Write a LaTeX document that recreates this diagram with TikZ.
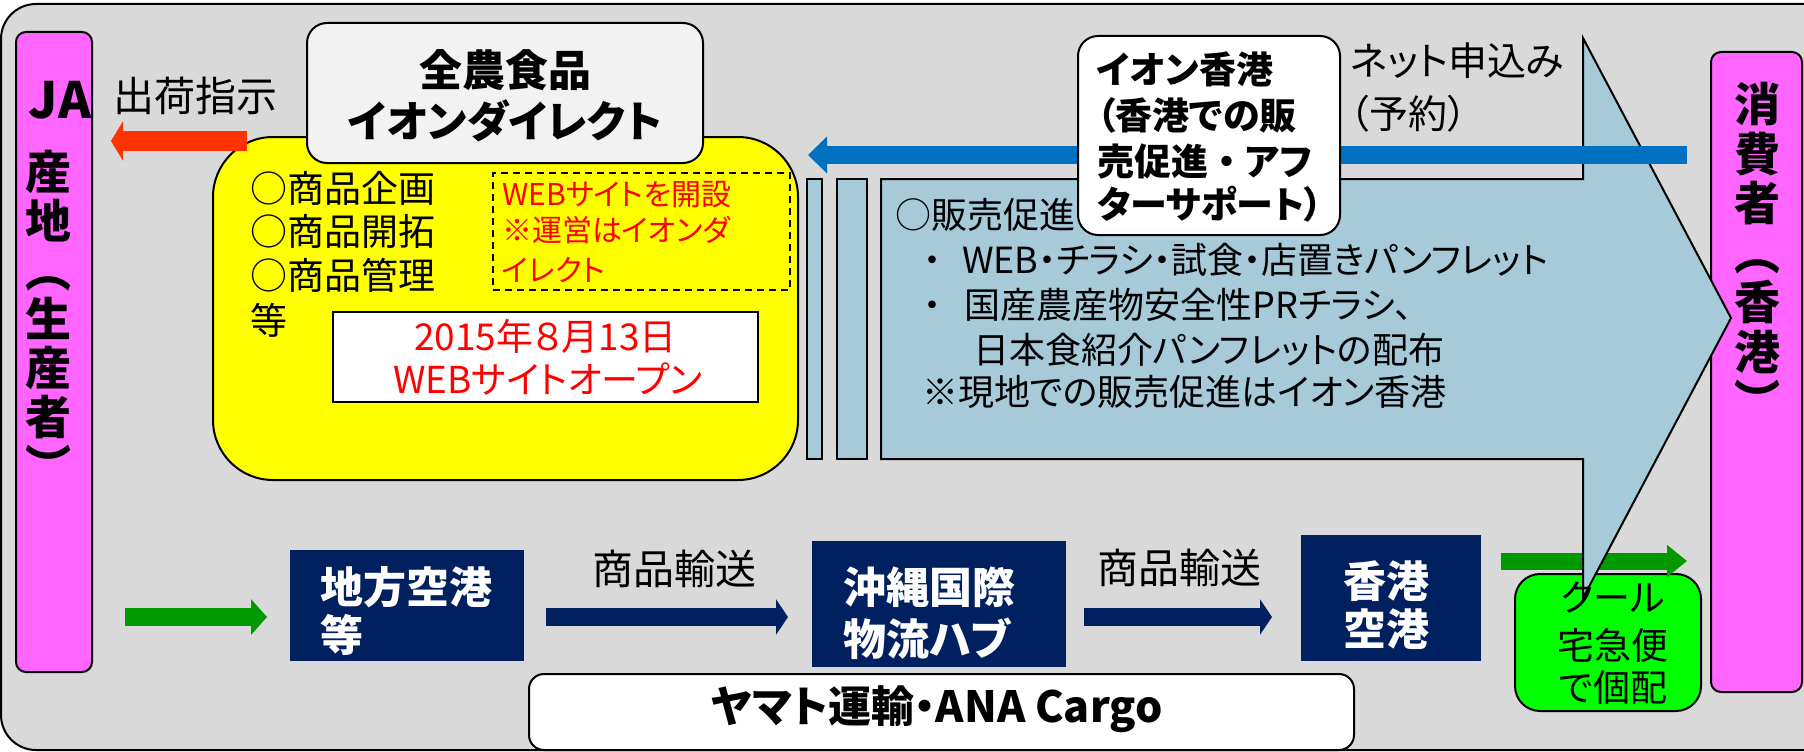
\documentclass[tikz,border=0pt]{standalone}
\usepackage{fontspec}
\newfontfamily\jp{Noto Sans CJK JP}[RawFeature=+palt]
\usetikzlibrary{arrows.meta}
\definecolor{bgc}{HTML}{D9D9D9}
\definecolor{mag}{HTML}{FF66FF}
\definecolor{yel}{HTML}{FFFF00}
\definecolor{paleg}{HTML}{F2F2F2}
\definecolor{lblue}{HTML}{A6CAD8}
\definecolor{navy}{HTML}{002060}
\definecolor{garr}{HTML}{009900}
\definecolor{gbox}{HTML}{00FF00}
\definecolor{rarr}{HTML}{FF3300}
\definecolor{barr}{HTML}{0070C0}
\definecolor{rtxt}{HTML}{FF0000}
\tikzset{
  every node/.style={inner sep=0pt, outer sep=0pt},
  f/.style={font=\jp\fontsize{#1}{#1}\selectfont},
  fb/.style={font=\jp\bfseries\fontsize{#1}{#1}\selectfont},
  tl/.style={anchor=base west},
  tc/.style={anchor=base},
  bx/.style={draw=black, line width=2pt, rectangle},
  nv/.style={fill=navy, rectangle},
}
\begin{document}
\begin{tikzpicture}[x=1pt,y=-1pt]
\useasboundingbox (0,0) rectangle (1804,752);
% background
\draw[fill=bgc, line width=2pt, rounded corners=35pt] (1,4) rectangle (1860,750);

% side bars
\node[bx, fill=mag, rounded corners=10pt, minimum width=76pt, minimum height=640pt] (ja) at (54,352) {};
\node[bx, fill=mag, rounded corners=10pt, minimum width=91pt, minimum height=640pt] (cons) at (1756.5,372) {};

% yellow block
\node[bx, fill=yel, rounded corners=60pt, minimum width=585pt, minimum height=343pt] (yellow) at (505.5,308.5) {};
\node[bx, fill=paleg, rounded corners=20pt, minimum width=396pt, minimum height=140pt] (zen) at (505,93) {};
\node[draw=black, line width=1.5pt, dash pattern=on 7pt off 5pt, minimum width=297pt, minimum height=117pt] (dash) at (641.5,231.5) {};
\node[bx, fill=white, minimum width=425pt, minimum height=90pt] (open) at (545.5,357) {};

% green delivery box
\node[bx, fill=gbox, rounded corners=25pt, minimum width=186pt, minimum height=137pt] (cool) at (1608,642.5) {};
\coordinate (g2s) at (1501,561);
\coordinate (g2e) at (1687,561);
\draw[garr, line width=17pt, -{Triangle[length=20pt,width=31pt]}] (g2s) -- (g2e);

% big striped arrow
\draw[bx, fill=lblue] (807,179) rectangle (822,459);
\draw[bx, fill=lblue] (837,179) rectangle (867,459);
\draw[line width=2pt, fill=lblue, line join=miter] (881,179) -- (1583,179) -- (1583,38) -- (1731,318) -- (1583,598) -- (1583,459) -- (881,459) -- cycle;

% blue arrow (order)
\coordinate (bs) at (1687,155);
\coordinate (be) at (808,155);
\draw[barr, line width=18pt, -{Triangle[length=19pt,width=36pt]}] (bs) -- (be);

% red arrow (shipping instruction)
\coordinate (rs) at (247,141);
\coordinate (re) at (111,141);
\draw[rarr, line width=20pt, -{Triangle[length=12pt,width=39pt]}] (rs) -- (re);

% texts: left bar
\node[fb=50, tc] (jaT) at (60,118) {JA};
\foreach \c [count=\i from 0] in {産,地,︵,生,産,者,︶}
  \node[fb=46, tc] (lv\i) at (48,{189.5+49*\i}) {\c};
% right bar
\foreach \c [count=\i from 0] in {消,費,者,︵,香,港,︶}
  \node[fb=46, tc] (rv\i) at (1757,{121.5+49.5*\i}) {\c};

\node[f=41, tc] (ship) at (195,111) {出荷指示};
\node[fb=43, tc] (zen1) at (505,86) {全農食品};
\node[fb=43, tc] (zen2) at (505,137) {イオンダイレクト};

\node[f=37, tl] (y1) at (250,202) {○商品企画};
\node[f=37, tl] (y2) at (250,245) {○商品開拓};
\node[f=37, tl] (y3) at (250,289) {○商品管理};
\node[f=37, tl] (y4) at (250,334) {等};

\node[f=30, tl, text=rtxt] (w1) at (502,205) {WEBサイトを開設};
\node[f=30, tl, text=rtxt] (w2) at (502,241) {※運営はイオンダ};
\node[f=30, tl, text=rtxt] (w3) at (502,281) {イレクト};

\node[f=37, tc, text=rtxt] (o1) at (545.5,350) {2015年８月13日};
\node[f=37, tc, text=rtxt] (o2) at (548,393) {WEBサイトオープン};

\node[f=36, tl] (p0) at (895,228) {○販売促進};
\node[f=36, tl] (p1) at (923,273) {\makebox[39pt][l]{・}WEB・チラシ・試食・店置きパンフレット};
\node[f=36, tl] (p2) at (923,318) {\makebox[42pt][l]{・}国産農産物安全性PRチラシ、};
\node[f=36, tl] (p3) at (973,363) {日本食紹介パンフレットの配布};
\node[f=36, tl] (p4) at (922,405) {※現地での販売促進はイオン香港};

% aeon box
\node[bx, fill=white, rounded corners=20pt, minimum width=262pt, minimum height=199pt] (aeon) at (1209,135.5) {};
\node[fb=37, tl] (a1) at (1097,84) {イオン香港};
\node[fb=37, tl] (a2) at (1097,129) {（香港での販};
\node[fb=37, tl] (a3) at (1097,175) {売促進{\addfontfeature{RawFeature=-palt}・}アフ};
\node[fb=37, tl] (a4) at (1097,218) {ターサポート）};

\node[f=39, tl] (n1) at (1350,76) {ネット申込み};
\node[f=39, tl] (n2) at (1350,128) {（予約）};

% bottom row
\coordinate (g1s) at (125,617);
\coordinate (g1e) at (267,617);
\draw[garr, line width=18pt, -{Triangle[length=16pt,width=35pt]}] (g1s) -- (g1e);

\node[nv, minimum width=234pt, minimum height=111pt] (air1) at (407,605.5) {};
\node[fb=43, tl, text=white] (air1a) at (320,603) {地方空港};
\node[fb=43, tl, text=white] (air1b) at (320,651) {等};

\coordinate (n1s) at (546,617);
\coordinate (n1e) at (788,617);
\draw[navy, line width=18pt, -{Triangle[length=12pt,width=35pt]}] (n1s) -- (n1e);
\node[f=41, tc] (lab1) at (674,584) {商品輸送};

\node[nv, minimum width=254pt, minimum height=126pt] (oki) at (939,604) {};
\node[fb=43, tl, text=white] (oki1) at (843,603) {沖縄国際};
\node[fb=43, tl, text=white] (oki2) at (843,655) {物流ハブ};

\coordinate (n2s) at (1084,617);
\coordinate (n2e) at (1272,617);
\draw[navy, line width=18pt, -{Triangle[length=12pt,width=35pt]}] (n2s) -- (n2e);
\node[f=41, tc] (lab2) at (1179,583) {商品輸送};

\node[nv, minimum width=180pt, minimum height=126pt] (hk) at (1391,598) {};
\node[fb=43, tc, text=white] (hk1) at (1386,597) {香港};
\node[fb=43, tc, text=white] (hk2) at (1386,645) {空港};

\node[f=37, tc] (c1) at (1613,611) {クール};
\node[f=37, tc] (c2) at (1613,659) {宅急便};
\node[f=37, tc] (c3) at (1613,701) {で個配};

\node[bx, fill=white, rounded corners=15pt, minimum width=825pt, minimum height=76pt] (yam) at (941.5,712) {};
\node[fb=43, tc] (yamT) at (937,722) {ヤマト運輸・ANA Cargo};
\end{tikzpicture}
\end{document}
